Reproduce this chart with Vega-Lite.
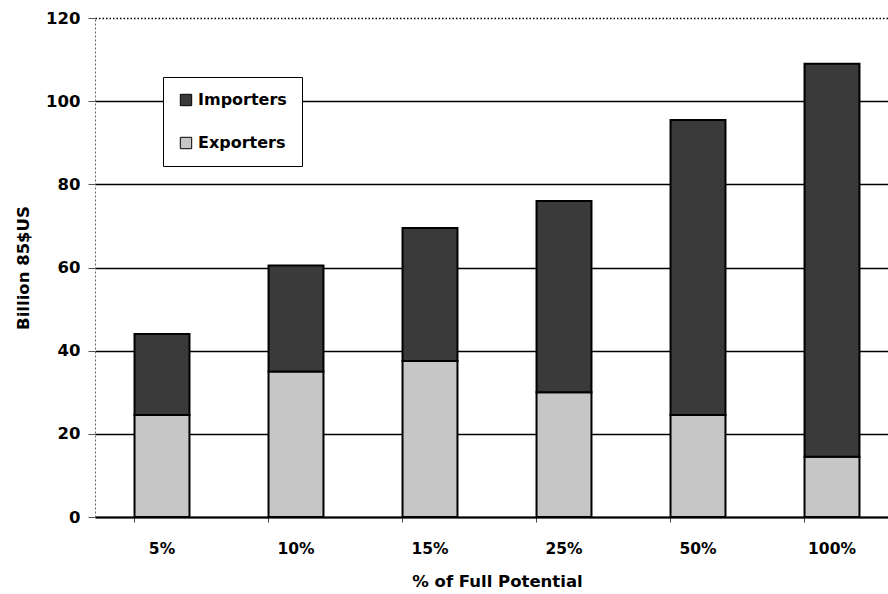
{
  "$schema": "https://vega.github.io/schema/vega-lite/v6.json",
  "autosize": "none",
  "width": 804,
  "height": 499,
  "padding": {"left": 95, "top": 18, "right": 0, "bottom": 77},
  "background": "white",
  "config": {
    "font": "DejaVu Sans",
    "view": {"stroke": null},
    "axis": {"labelFont": "DejaVu Sans", "titleFont": "DejaVu Sans", "labelFontWeight": "bold", "titleFontWeight": "bold", "labelColor": "black", "titleColor": "black"}
  },
  "data": {
    "values": [
      {"potential": "5%", "series": "Exporters", "value": 24.5},
      {"potential": "5%", "series": "Importers", "value": 19.5},
      {"potential": "10%", "series": "Exporters", "value": 35},
      {"potential": "10%", "series": "Importers", "value": 25.5},
      {"potential": "15%", "series": "Exporters", "value": 37.5},
      {"potential": "15%", "series": "Importers", "value": 32},
      {"potential": "25%", "series": "Exporters", "value": 30},
      {"potential": "25%", "series": "Importers", "value": 46},
      {"potential": "50%", "series": "Exporters", "value": 24.5},
      {"potential": "50%", "series": "Importers", "value": 71},
      {"potential": "100%", "series": "Exporters", "value": 14.5},
      {"potential": "100%", "series": "Importers", "value": 94.5}
    ]
  },
  "mark": {"type": "bar", "stroke": "black", "strokeWidth": 2},
  "encoding": {
    "x": {
      "field": "potential",
      "type": "nominal",
      "sort": null,
      "scale": {"paddingInner": 0.59, "paddingOuter": 0.295},
      "axis": {
        "title": "% of Full Potential",
        "titleFontSize": 16.5,
        "titlePadding": 17,
        "labelFontSize": 15.5,
        "labelAngle": 0,
        "labelPadding": 19,
        "tickSize": 5,
        "tickColor": "#444",
        "bandPosition": 0,
        "domainColor": "black",
        "domainWidth": 2
      }
    },
    "y": {
      "field": "value",
      "type": "quantitative",
      "stack": "zero",
      "scale": {"domain": [0, 120], "nice": false},
      "axis": {
        "title": "Billion 85$US",
        "titleFontSize": 16.5,
        "titlePadding": 14,
        "labelFontSize": 16.5,
        "labelPadding": 8,
        "values": [0, 20, 40, 60, 80, 100, 120],
        "tickSize": 7,
        "tickColor": "#555",
        "domainColor": "#666",
        "domainDash": [2, 2],
        "grid": true,
        "gridColor": "black",
        "gridOpacity": 1,
        "gridWidth": {"condition": {"test": "datum.value == 120", "value": 1.5}, "value": 1.3},
        "gridDash": {"condition": {"test": "datum.value == 120", "value": [1.5, 2]}, "value": []}
      }
    },
    "color": {
      "field": "series",
      "type": "nominal",
      "scale": {"domain": ["Importers", "Exporters"], "range": ["#3a3a3a", "#c6c6c6"]},
      "legend": {
        "title": null,
        "orient": "none",
        "legendX": 68,
        "legendY": 59,
        "direction": "vertical",
        "symbolType": "square",
        "symbolSize": 130,
        "symbolStrokeColor": "black",
        "symbolStrokeWidth": 1,
        "labelFont": "DejaVu Sans",
        "labelFontWeight": "bold",
        "labelFontSize": 16,
        "labelColor": "black",
        "rowPadding": 27,
        "padding": 15,
        "strokeColor": "black",
        "fillColor": "white",
        "labelOffset": 4
      }
    },
    "order": {"field": "series", "sort": "ascending"}
  }
}
